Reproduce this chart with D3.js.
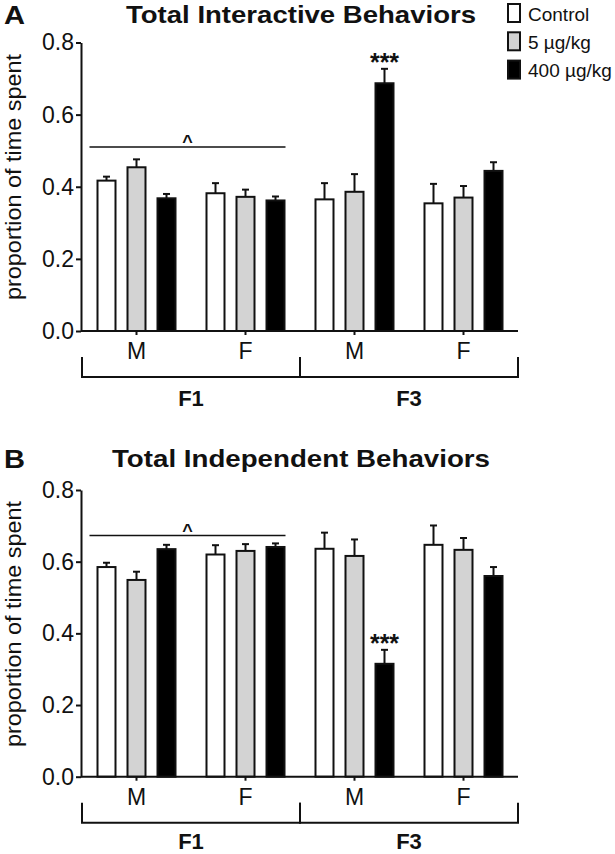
<!DOCTYPE html>
<html>
<head>
<meta charset="utf-8">
<script src="https://cdn.jsdelivr.net/npm/d3@7"></script>
<style>
  html, body { margin: 0; padding: 0; background: #fff; }
  svg { display: block; font-family: "Liberation Sans", Arial, Helvetica, sans-serif; }
</style>
</head>
<body>
<svg id="chart" width="615" height="854"></svg>
<script>
// ---------- DATA ----------
const groups = ["F1-M", "F1-F", "F3-M", "F3-F"];
const groupLabels = ["M", "F", "M", "F"];
const generations = ["F1", "F3"];
const seriesNames = ["Control", "5 µg/kg", "400 µg/kg"];
const yTicks = [0.0, 0.2, 0.4, 0.6, 0.8];

// Panel A: Total Interactive Behaviors (mean, SEM)
const interactiveControl = [0.417, 0.382, 0.365, 0.354];
const interactive5 = [0.454, 0.372, 0.386, 0.370];
const interactive400 = [0.368, 0.362, 0.687, 0.444];
const interactiveControlErr = [0.011, 0.028, 0.045, 0.054];
const interactive5Err = [0.022, 0.020, 0.049, 0.032];
const interactive400Err = [0.012, 0.011, 0.040, 0.024];

// Panel B: Total Independent Behaviors (mean, SEM)
const independentControl = [0.585, 0.620, 0.636, 0.647];
const independent5 = [0.549, 0.630, 0.616, 0.633];
const independent400 = [0.635, 0.641, 0.315, 0.560];
const independentControlErr = [0.012, 0.026, 0.045, 0.054];
const independent5Err = [0.023, 0.019, 0.046, 0.033];
const independent400Err = [0.012, 0.010, 0.039, 0.025];

// significance annotations
const caretLevels = [0.510, 0.673];   // "^" line level (data units) for A, B
const starTargets = [{ series: 2, group: 2 }, { series: 2, group: 2 }];

// ---------- STYLE / LAYOUT ----------
const fills = ["#ffffff", "#d3d3d3", "#000000"];
const ink = "#111";
const svg = d3.select("#chart");
svg.append("rect").attr("width", 615).attr("height", 854).attr("fill", "#fff");

const x = d3.scaleBand().domain(groups).range([82, 518]).padding(0);
const xInner = d3.scaleBand().domain(d3.range(seriesNames.length)).range([-40, 40]).paddingInner(1 / 3).paddingOuter(0);

const panels = [
  { letter: "A", title: "Total Interactive Behaviors", titleLen: 350, y0: 331, yTop: 42.5, titleY: 22.5, letterY: 24, labelCY: 177, genDY: 74.5,
    means: [interactiveControl, interactive5, interactive400],
    errs: [interactiveControlErr, interactive5Err, interactive400Err], legend: true },
  { letter: "B", title: "Total Independent Behaviors", titleLen: 378, y0: 776.7, yTop: 490, titleY: 466.5, letterY: 468, labelCY: 624, genDY: 72,
    means: [independentControl, independent5, independent400],
    errs: [independentControlErr, independent5Err, independent400Err], legend: false }
];

panels.forEach((p, pi) => {
  const g = svg.append("g");
  const y = d3.scaleLinear().domain([0, 0.8]).range([p.y0, p.yTop]);

  // panel letter
  g.append("text").attr("x", 4).attr("y", p.letterY)
    .attr("font-size", 26).attr("font-weight", "bold").attr("fill", ink)
    .attr("textLength", 21).attr("lengthAdjust", "spacingAndGlyphs").text(p.letter);
  // title
  g.append("text").attr("x", 301).attr("y", p.titleY).attr("text-anchor", "middle")
    .attr("font-size", 24.5).attr("font-weight", "bold").attr("fill", ink)
    .attr("textLength", p.titleLen).attr("lengthAdjust", "spacingAndGlyphs").text(p.title);

  // y label
  g.append("text").attr("transform", `translate(21,${p.labelCY}) rotate(-90)`)
    .attr("text-anchor", "middle").attr("font-size", 21.5).attr("fill", ink)
    .attr("textLength", 246).attr("lengthAdjust", "spacingAndGlyphs")
    .text("proportion of time spent");

  // y axis
  const yAxis = g.append("g").attr("transform", "translate(81,0)")
    .call(d3.axisLeft(y).tickValues(yTicks).tickFormat(d3.format(".1f")).tickSize(5).tickSizeOuter(0).tickPadding(2));
  yAxis.select(".domain").attr("stroke", ink).attr("stroke-width", 2);
  yAxis.selectAll(".tick line").attr("stroke", ink).attr("stroke-width", 2);
  yAxis.selectAll(".tick text").attr("font-size", 23).attr("fill", ink).attr("font-family", null);

  // bars
  const bars = [];
  p.means.forEach((arr, si) => arr.forEach((v, gi) => bars.push({ si, gi, v, e: p.errs[si][gi] })));
  const bx = d => x(groups[d.gi]) + x.bandwidth() / 2 + xInner(d.si);
  const bw = xInner.bandwidth();

  // error bars (upper only)
  const eb = g.append("g");
  eb.selectAll("line.stem").data(bars).join("line").attr("class", "stem")
    .attr("x1", d => bx(d) + bw / 2).attr("x2", d => bx(d) + bw / 2)
    .attr("y1", d => y(d.v)).attr("y2", d => y(d.v + d.e))
    .attr("stroke", ink).attr("stroke-width", 2);
  eb.selectAll("line.cap").data(bars).join("line").attr("class", "cap")
    .attr("x1", d => bx(d) + bw / 2 - 3.5).attr("x2", d => bx(d) + bw / 2 + 3.5)
    .attr("y1", d => y(d.v + d.e)).attr("y2", d => y(d.v + d.e))
    .attr("stroke", ink).attr("stroke-width", 2);

  g.append("g").selectAll("rect").data(bars).join("rect")
    .attr("x", d => bx(d) + 1).attr("width", bw - 2)
    .attr("y", d => y(d.v)).attr("height", d => p.y0 - y(d.v))
    .attr("fill", d => fills[d.si]).attr("stroke", ink).attr("stroke-width", 2);

  // x axis
  const xAxis = g.append("g").attr("transform", `translate(0,${p.y0})`)
    .call(d3.axisBottom(x).tickSize(4).tickSizeOuter(0).tickPadding(8)
      .tickFormat((d, i) => groupLabels[i]));
  xAxis.select(".domain").attr("d", `M81,0H518`).attr("stroke", ink).attr("stroke-width", 2);
  xAxis.selectAll(".tick line").attr("stroke", ink).attr("stroke-width", 2);
  xAxis.selectAll(".tick text").attr("font-size", 23).attr("fill", ink).attr("font-family", null);

  // generation brackets
  const bounds = [x.range()[0], x(groups[2]), x.range()[1]];
  generations.forEach((gen, k) => {
    const l = bounds[k], r = bounds[k + 1];
    g.append("path")
      .attr("d", `M${l},${p.y0 + 26}V${p.y0 + 46}H${r}V${p.y0 + 26}`)
      .attr("fill", "none").attr("stroke", ink).attr("stroke-width", 2);
    g.append("text").attr("x", (l + r) / 2).attr("y", p.y0 + p.genDY)
      .attr("text-anchor", "middle").attr("font-size", 22).attr("font-weight", "bold")
      .attr("fill", ink).text(gen);
  });

  // caret line over F1
  const cy = y(caretLevels[pi]);
  const cl = x(groups[0]) + x.bandwidth() / 2 + xInner(0) - 7;
  const cr = x(groups[1]) + x.bandwidth() / 2 + xInner(2) + bw;
  g.append("line").attr("x1", cl).attr("x2", cr).attr("y1", cy).attr("y2", cy)
    .attr("stroke", ink).attr("stroke-width", 1.5);
  g.append("text").attr("x", (cl + cr) / 2).attr("y", cy + 1).attr("text-anchor", "middle")
    .attr("font-size", 18).attr("font-weight", "bold").attr("fill", ink).text("^");

  // stars
  const st = starTargets[pi];
  const sb = bars.find(d => d.si === st.series && d.gi === st.group);
  g.append("text").attr("x", bx(sb) + bw / 2).attr("y", y(sb.v + sb.e) + 2)
    .attr("text-anchor", "middle").attr("font-size", 25).attr("font-weight", "bold")
    .attr("fill", ink).text("***");

  // legend
  if (p.legend) {
    const lg = g.append("g");
    seriesNames.forEach((name, i) => {
      lg.append("rect").attr("x", 508).attr("y", 4 + i * 28.3).attr("width", 12).attr("height", 18)
        .attr("fill", fills[i]).attr("stroke", ink).attr("stroke-width", 2);
      lg.append("text").attr("x", 528).attr("y", 20.5 + i * 28.3)
        .attr("font-size", 19).attr("fill", ink).text(name);
    });
  }
});
</script>
</body>
</html>
